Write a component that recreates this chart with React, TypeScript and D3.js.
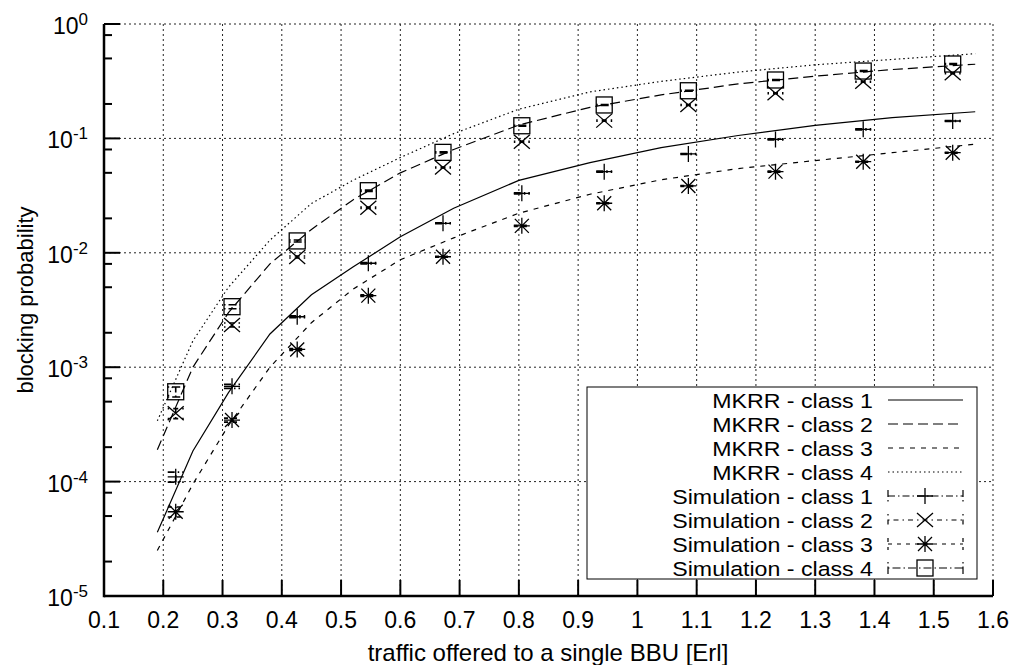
import React from "react";
import * as d3 from "d3";

const W = 1013;
const H = 665;
const FONT = "'Liberation Sans', Arial, Helvetica, sans-serif";

// simulation points (offered traffic per BBU)
const simX = [0.221, 0.316, 0.426, 0.546, 0.672, 0.805, 0.944, 1.086, 1.233, 1.381, 1.532];
const sim1 = [1.1e-4, 6.8e-4, 2.76e-3, 8.1e-3, 0.0181, 0.0331, 0.0512, 0.0731, 0.098, 0.12, 0.142];
const sim2 = [3.95e-4, 2.34e-3, 9.2e-3, 0.0248, 0.0556, 0.0936, 0.143, 0.196, 0.248, 0.313, 0.371];
const sim3 = [5.45e-5, 3.45e-4, 1.43e-3, 4.22e-3, 9.24e-3, 0.0172, 0.0271, 0.0384, 0.0512, 0.0626, 0.075];
const sim4 = [6.1e-4, 3.38e-3, 0.0127, 0.0349, 0.0755, 0.129, 0.196, 0.261, 0.324, 0.388, 0.447];
// relative half-width of confidence intervals
const simErr = [0.1, 0.04, 0.02, 0.015, 0.01, 0.01, 0.01, 0.01, 0.01, 0.01, 0.01];

// analytical model (MKRR)
const modelX = [0.19, 0.25, 0.31, 0.38, 0.45, 0.52, 0.6, 0.69, 0.8, 0.92, 1.04, 1.17, 1.3, 1.43, 1.57];
const mkrr1 = [3.6e-5, 1.85e-4, 6.0e-4, 1.95e-3, 4.3e-3, 7.5e-3, 0.0138, 0.0245, 0.043, 0.0615, 0.083, 0.106, 0.13, 0.152, 0.171];
const mkrr2 = [1.9e-4, 1.0e-3, 3.0e-3, 8.0e-3, 0.016, 0.029, 0.05, 0.08, 0.131, 0.187, 0.24, 0.3, 0.35, 0.4, 0.445];
const mkrr3 = [2.5e-5, 9.5e-5, 3.1e-4, 1.0e-3, 2.45e-3, 4.8e-3, 8.7e-3, 0.0135, 0.0222, 0.0325, 0.0435, 0.0545, 0.064, 0.075, 0.089];
const mkrr4 = [3.4e-4, 1.7e-3, 5.0e-3, 0.0129, 0.027, 0.043, 0.068, 0.11, 0.18, 0.255, 0.315, 0.38, 0.44, 0.49, 0.55];

const xTicks = [0.1, 0.2, 0.3, 0.4, 0.5, 0.6, 0.7, 0.8, 0.9, 1, 1.1, 1.2, 1.3, 1.4, 1.5, 1.6];
const yExponents = [0, -1, -2, -3, -4, -5];
const yMinorMantissas = [2, 5, 8];

const modelLabels = ["MKRR - class 1", "MKRR - class 2", "MKRR - class 3", "MKRR - class 4"];
const simLabels = ["Simulation - class 1", "Simulation - class 2", "Simulation - class 3", "Simulation - class 4"];

const modelDash = ["none", "10,5", "5,6", "1.5,3"];
const simDash = ["7,3,1.5,3", "1.5,4,5,4", "4,5", "1.5,3,8,3"];
const simMarks = ["plus", "cross", "star", "square"];

const xScale = d3.scaleLinear().domain([0.1, 1.6]).range([104, 993]);
const yScale = d3.scaleLog().domain([1e-5, 1]).range([596, 24]);

const line = d3
  .line<[number, number]>()
  .x(d => xScale(d[0]))
  .y(d => yScale(d[1]));

const Marker = ({ kind, x, y }: { kind: string; x: number; y: number }) => {
  const s = 8;
  const st = { stroke: "#000", strokeWidth: 1.3, fill: "none" };
  if (kind === "plus")
    return <path d={`M${x - s},${y}H${x + s}M${x},${y - s}V${y + s}`} {...st} />;
  if (kind === "cross")
    return <path d={`M${x - s},${y - 7}L${x + s},${y + 7}M${x - s},${y + 7}L${x + s},${y - 7}`} {...st} />;
  if (kind === "star")
    return (
      <path
        d={`M${x - s},${y}H${x + s}M${x},${y - s}V${y + s}M${x - 7},${y - 7}L${x + 7},${y + 7}M${x - 7},${y + 7}L${x + 7},${y - 7}`}
        {...st}
      />
    );
  return <rect x={x - s} y={y - s} width={2 * s} height={2 * s} {...st} />;
};

// legend text: slightly narrower font, stretched to the reference width
const LegendText = ({ y, children }: { y: number; children: React.ReactNode }) => (
  <text transform={`translate(873,${y}) scale(1.13,1)`} textAnchor="end" fontFamily={FONT} fontSize={20.5}>
    {children}
  </text>
);

export default function App() {
  const models = [mkrr1, mkrr2, mkrr3, mkrr4];
  const sims = [sim1, sim2, sim3, sim4];

  const minorTicks: number[] = [];
  yExponents.slice(1).forEach(e => yMinorMantissas.forEach(m => minorTicks.push(m * Math.pow(10, e))));

  const [x0, x1] = xScale.range();
  const [y0, y1] = yScale.range();

  const legX = 587, legY = 387, legW = 390, legH = 192;
  const rowY = (i: number) => 400 + 24 * i;

  return (
    <svg width={W} height={H} viewBox={`0 0 ${W} ${H}`} style={{ position: "absolute", left: 0, top: 0, background: "#fff" }}>
      {/* grid */}
      <g stroke="#222" strokeWidth={1} strokeDasharray="2,3">
        {xTicks.slice(1).map((t, i) => (
          <line key={i} x1={xScale(t)} x2={xScale(t)} y1={y0} y2={y1} />
        ))}
        {yExponents.slice(0, -1).map((e, i) => (
          <line key={i} x1={x0} x2={x1} y1={yScale(Math.pow(10, e))} y2={yScale(Math.pow(10, e))} />
        ))}
      </g>

      {/* model curves */}
      {models.map((m, i) => (
        <path
          key={i}
          d={line(modelX.map((x, j) => [x, m[j]]) as [number, number][]) || ""}
          fill="none"
          stroke="#000"
          strokeWidth={1.2}
          strokeDasharray={modelDash[i]}
        />
      ))}

      {/* simulation points with confidence intervals */}
      {sims.map((s, i) => (
        <g key={i}>
          {simX.map((x, j) => {
            const px = xScale(x);
            const lo = yScale(s[j] * (1 - simErr[j]));
            const hi = yScale(s[j] * (1 + simErr[j]));
            return (
              <g key={j}>
                <path
                  d={`M${px},${lo}V${hi}M${px - 8},${lo}H${px + 8}M${px - 8},${hi}H${px + 8}`}
                  stroke="#000"
                  strokeWidth={1.6}
                  fill="none"
                  strokeDasharray={simDash[i]}
                />
                <Marker kind={simMarks[i]} x={px} y={yScale(s[j])} />
              </g>
            );
          })}
        </g>
      ))}

      {/* axes */}
      <line x1={x0} x2={x1} y1={y0} y2={y0} stroke="#000" strokeWidth={2.5} />
      <line x1={x0} x2={x0} y1={y0 + 1.2} y2={y1} stroke="#000" strokeWidth={2.5} />
      {xTicks.map((t, i) => (
        <g key={i}>
          <line x1={xScale(t)} x2={xScale(t)} y1={y0} y2={y0 - 16} stroke="#000" strokeWidth={2} />
          <text x={xScale(t)} y={628} textAnchor="middle" fontFamily={FONT} fontSize={23}>
            {t}
          </text>
        </g>
      ))}
      {yExponents.map((e, i) => (
        <g key={i}>
          <line x1={x0} x2={x0 + 16} y1={yScale(Math.pow(10, e))} y2={yScale(Math.pow(10, e))} stroke="#000" strokeWidth={2} />
          <text x={88} y={yScale(Math.pow(10, e)) + 10} textAnchor="end" fontFamily={FONT} fontSize={23}>
            10
            <tspan fontSize={17} dy={-9}>
              {e}
            </tspan>
          </text>
        </g>
      ))}
      {minorTicks.map((t, i) => (
        <line key={i} x1={x0} x2={x0 + 8} y1={yScale(t)} y2={yScale(t)} stroke="#000" strokeWidth={2} />
      ))}

      {/* axis titles */}
      <text x={548} y={661} textAnchor="middle" fontFamily={FONT} fontSize={24}>
        traffic offered to a single BBU [Erl]
      </text>
      <text transform="translate(33,300) rotate(-90)" textAnchor="middle" fontFamily={FONT} fontSize={22}>
        blocking probability
      </text>

      {/* legend */}
      <rect x={legX} y={legY} width={legW} height={legH} fill="#fff" stroke="#000" strokeWidth={1} />
      {modelLabels.map((l, i) => (
        <g key={i}>
          <LegendText y={rowY(i) + 7.5}>{l}</LegendText>
          <line x1={888} x2={963} y1={rowY(i)} y2={rowY(i)} stroke="#000" strokeWidth={1.2} strokeDasharray={modelDash[i]} />
        </g>
      ))}
      {simLabels.map((l, i) => {
        const ry = rowY(i + 4);
        return (
          <g key={i}>
            <LegendText y={ry + 7.5}>{l}</LegendText>
            <path
              d={`M888,${ry}H963M888,${ry - 6}V${ry + 6}M963,${ry - 6}V${ry + 6}`}
              stroke="#000"
              strokeWidth={1.2}
              fill="none"
              strokeDasharray={simDash[i]}
            />
            <Marker kind={simMarks[i]} x={925} y={ry} />
          </g>
        );
      })}
    </svg>
  );
}
